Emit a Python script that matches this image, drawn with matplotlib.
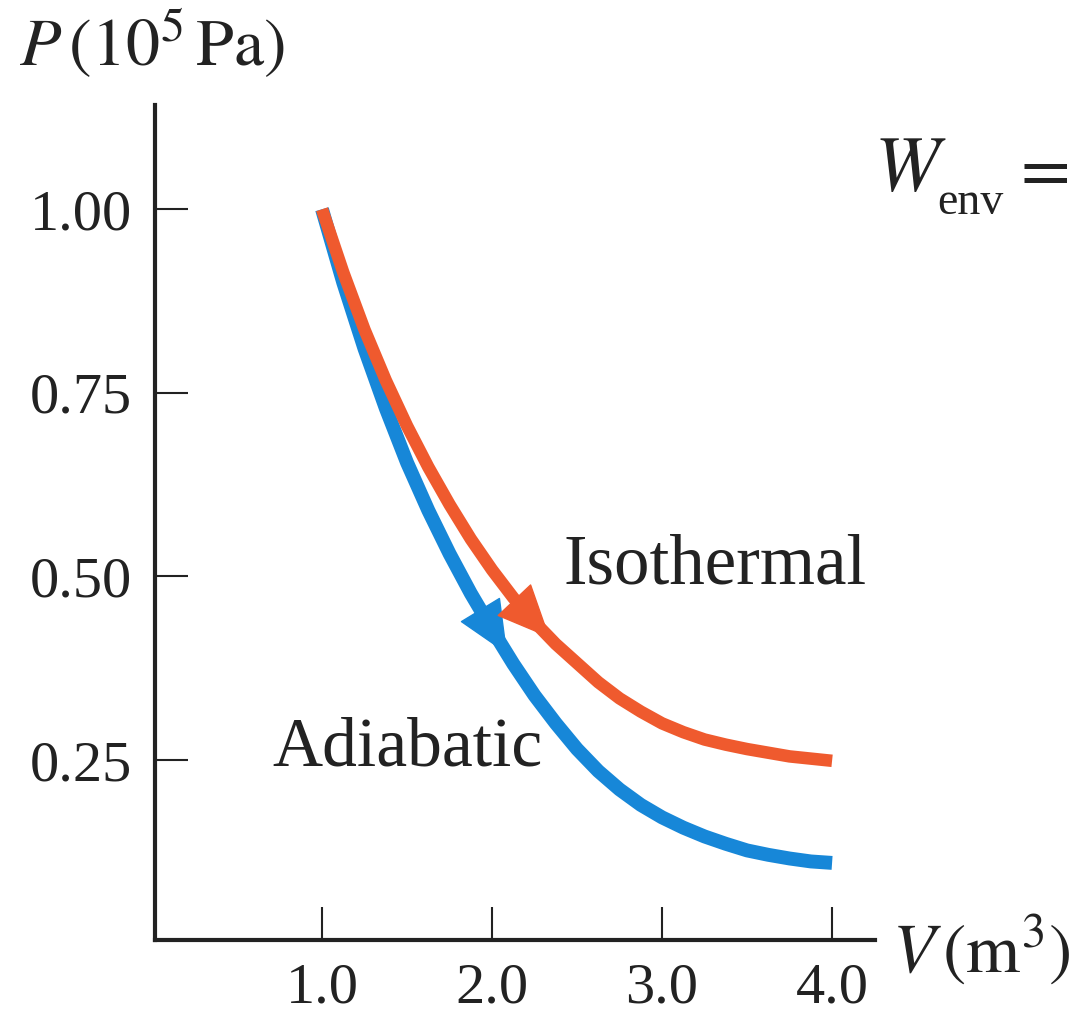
import numpy as np
from matplotlib import pyplot as plt

# values (V in m^3, P in 1e5 Pa)
V = [1.0, 1.125, 1.25, 1.375, 1.5, 1.625, 1.75, 1.875, 2.0, 2.125, 2.25,
     2.375, 2.5, 2.625, 2.75, 2.875, 3.0, 3.125, 3.25, 3.375, 3.5, 3.625,
     3.75, 3.875, 4.0]
P_iso = [1.000, 0.914, 0.836, 0.767, 0.705, 0.649, 0.598, 0.551, 0.509,
         0.471, 0.438, 0.408, 0.382, 0.356, 0.334, 0.316, 0.300, 0.288,
         0.278, 0.271, 0.265, 0.260, 0.255, 0.252, 0.249]
P_adi = [1.000, 0.900, 0.810, 0.729, 0.655, 0.590, 0.531, 0.477, 0.428,
         0.381, 0.338, 0.300, 0.265, 0.235, 0.210, 0.189, 0.172, 0.158,
         0.146, 0.136, 0.127, 0.121, 0.116, 0.112, 0.110]

x_ticks = [1.0, 2.0, 3.0, 4.0]
x_ticklabels = ["1.0", "2.0", "3.0", "4.0"]
y_ticks = [0.25, 0.50, 0.75, 1.00]
y_ticklabels = ["0.25", "0.50", "0.75", "1.00"]

iso_color = "#ef5a2e"
adi_color = "#1787d8"
ink = "#222222"

plt.rcParams["mathtext.fontset"] = "stix"
plt.rcParams["font.family"] = "Liberation Serif"

fig = plt.figure(figsize=(10.8, 10.18), dpi=100)
ax = fig.add_axes([0.1431, 0.0766, 0.6667, 0.8203])

ax.plot(V, P_adi, color=adi_color, lw=10, solid_capstyle="butt",
        solid_joinstyle="round")
ax.plot(V, P_iso, color=iso_color, lw=9, solid_capstyle="butt",
        solid_joinstyle="round")


def arrow_on(vs, ps, v_tip, color):
    v0 = v_tip - 0.12
    p_tip = np.interp(v_tip, vs, ps)
    p0 = np.interp(v0, vs, ps)
    ax.annotate("", xy=(v_tip, p_tip), xytext=(v0, p0),
                arrowprops=dict(arrowstyle="-|>,head_length=3.6,head_width=1.6",
                                mutation_scale=10, color=color, lw=1,
                                shrinkA=0, shrinkB=0))


arrow_on(V, P_adi, 2.09, adi_color)
arrow_on(V, P_iso, 2.34, iso_color)

ax.set_xlim(0.015, 4.25)
ax.set_ylim(0.005, 1.142)

for side in ["top", "right"]:
    ax.spines[side].set_visible(False)
for side in ["left", "bottom"]:
    ax.spines[side].set_linewidth(3)
    ax.spines[side].set_color(ink)

ax.set_xticks(x_ticks)
ax.set_xticklabels(x_ticklabels)
ax.set_yticks(y_ticks)
ax.set_yticklabels(y_ticklabels)
ax.tick_params(direction="in", length=24, width=1.5, color=ink,
               labelsize=42, labelcolor=ink)
ax.tick_params(axis="y", pad=16)
ax.tick_params(axis="x", pad=16.5)

ax.text(2.418, 0.491, "Isothermal", fontsize=51, color=ink, va="baseline")
ax.text(0.706, 0.243, "Adiabatic", fontsize=50, color=ink, va="baseline")

fig.text(0.018, 0.935, r"$P\,(10^5\,\mathrm{Pa})$", fontsize=49, color=ink)
fig.text(874 / 1080, 1 - 190 / 1018, r"$W$", fontsize=56, color=ink,
         va="baseline")
fig.text(937 / 1080, 1 - 214 / 1018, "env", fontsize=33, color=ink,
         va="baseline")
fig.text(1010 / 1080, 1 - 190 / 1018, r"$=$", fontsize=52, color=ink,
         va="baseline")
fig.text(0.826, 0.045, r"$V\,(\mathrm{m}^3)$", fontsize=50, color=ink)

fig.savefig("out.png", dpi=100)
